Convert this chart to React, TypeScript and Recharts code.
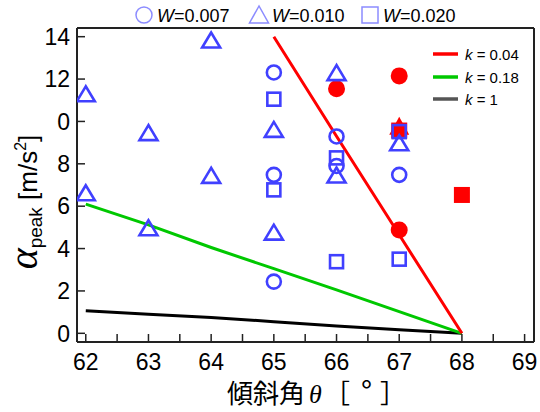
import React from 'react';
import { ComposedChart, XAxis, YAxis, Line, Scatter, Legend } from 'recharts';

// ---- data ----
const circleTheta = [65, 65, 65, 66, 66, 67];
const circleAlpha = [12.31, 7.48, 2.44, 9.29, 7.9, 7.48];
const triangleTheta = [62, 62, 63, 63, 64, 64, 65, 65, 66, 66, 67];
const triangleAlpha = [11.28, 6.61, 9.45, 4.96, 13.82, 7.43, 9.6, 4.75, 12.28, 7.45, 8.97];
const squareTheta = [65, 65, 66, 66, 67, 67];
const squareAlpha = [11.05, 6.77, 8.28, 3.38, 9.52, 3.5];
const redCircleTheta = [66, 67, 67];
const redCircleAlpha = [11.54, 12.15, 4.88];
const redTriangleTheta = [67];
const redTriangleAlpha = [9.75];
const redSquareTheta = [67, 68];
const redSquareAlpha = [9.57, 6.53];

const k004Theta = [65, 66, 67, 68];
const k004Alpha = [14, 9.3, 4.65, 0];
const k018Theta = [62, 63, 64, 65, 66, 67, 68];
const k018Alpha = [6.1, 5.12, 4.05, 3.05, 2.05, 1.02, 0];
const k1Theta = [62, 63, 64, 65, 66, 67, 68];
const k1Alpha = [1.07, 0.9, 0.75, 0.55, 0.35, 0.17, 0];

const xTickValues = [62, 62.5, 63, 63.5, 64, 64.5, 65, 65.5, 66, 66.5, 67, 67.5, 68, 68.5, 69];
const xTickLabels = ['62', '63', '64', '65', '66', '67', '68', '69'];
const yTickValues = [0, 2, 4, 6, 8, 10, 12, 14];
const yTickLabels = ['0', '2', '4', '6', '8', '0', '12', '14'];
const wLegendValues = ['0.007', '0.010', '0.020'];
const kLegendValues = ['0.04', '0.18', '1'];

const pts = (xs: number[], ys: number[]) => xs.map((x, i) => ({ x, y: ys[i] }));

const BLUE = '#4040ff';
const LIGHTBLUE = '#8c8cff';
const RED = '#ff0000';
const GREEN = '#00c800';
const SANS = '"Liberation Sans", Arial, sans-serif';
const SERIF = '"Liberation Serif", "DejaVu Serif", serif';
const CJK = '"Noto Sans CJK JP", sans-serif';

const XDOMAIN: [number, number] = [61.86, 69.15];
const YDOMAIN: [number, number] = [-0.41, 14.41];

const CircleShape = (p: any) => (
  <circle cx={p.cx} cy={p.cy} r={7} fill="none" stroke={BLUE} strokeWidth={2.6} />
);
const TriangleShape = (p: any) => (
  <polygon
    points={`${p.cx},${p.cy - 8} ${p.cx - 9},${p.cy + 7} ${p.cx + 9},${p.cy + 7}`}
    fill="none"
    stroke={BLUE}
    strokeWidth={2.6}
    strokeLinejoin="miter"
  />
);
const SquareShape = (p: any) => (
  <rect x={p.cx - 6.5} y={p.cy - 6.5} width={13} height={13} fill="none" stroke={BLUE} strokeWidth={2.6} />
);
const RedCircleShape = (p: any) => <circle cx={p.cx} cy={p.cy} r={8.5} fill={RED} />;
const RedTriangleShape = (p: any) => (
  <polygon points={`${p.cx},${p.cy - 10} ${p.cx - 10},${p.cy + 8} ${p.cx + 10},${p.cy + 8}`} fill={RED} />
);
const RedSquareShape = (p: any) => <rect x={p.cx - 8} y={p.cy - 8} width={16} height={16} fill={RED} />;

const XTick = (p: any) => {
  const v = p.payload.value;
  if (Math.abs(v - Math.round(v)) > 1e-6) return null;
  return (
    <text x={p.x} y={p.y} dy="0.71em" textAnchor="middle" fontFamily={SANS} fontSize={23} fill="#000">
      {xTickLabels[Math.round(v) - 62]}
    </text>
  );
};
const YTick = (p: any) => {
  const idx = yTickValues.indexOf(p.payload.value);
  return (
    <text x={p.x} y={p.y} dy="0.36em" textAnchor="end" fontFamily={SANS} fontSize={23} fill="#000">
      {yTickLabels[idx]}
    </text>
  );
};

const XTitle = (p: any) => {
  const vb = p.viewBox || { x: 77, y: 342, width: 457, height: 70 };
  const x0 = vb.x + 150;
  const by = vb.y + 61;
  return (
    <text x={x0} y={by} textAnchor="start" fontFamily={CJK} fontSize={26} fill="#000">
      <tspan>傾斜角</tspan>
      <tspan dx={4} fontFamily={SERIF} fontStyle="italic">θ</tspan>
      <tspan x={x0 + 97}>［</tspan>
      <tspan x={x0 + 134} fontSize={30}>°</tspan>
      <tspan x={x0 + 153}>］</tspan>
    </text>
  );
};

const YTitle = (p: any) => {
  const vb = p.viewBox || { x: 0, y: 28, width: 77, height: 314 };
  const cx = vb.x + 37;
  const cy = vb.y + vb.height / 2 + 17;
  return (
    <text
      transform={`rotate(-90, ${cx}, ${cy})`}
      x={cx}
      y={cy}
      textAnchor="middle"
      fontFamily={SANS}
      fontSize={26}
      fill="#000"
    >
      <tspan fontFamily={SERIF} fontStyle="italic" fontSize={40}>α</tspan>
      <tspan fontSize={19} dy={5}>peak</tspan>
      <tspan dy={-5}> [m/s</tspan>
      <tspan fontSize={16} dy={-11}>2</tspan>
      <tspan dy={11}>]</tspan>
    </text>
  );
};

const LegendContent = () => {
  const wx = [144, 259, 370];
  const kColors = [RED, GREEN, '#555555'];
  const ky = [54, 77, 99];
  return (
    <svg width={540} height={412} style={{ position: 'absolute', left: 0, top: 0, overflow: 'visible' }}>
      <circle cx={wx[0]} cy={15} r={8} fill="none" stroke={LIGHTBLUE} strokeWidth={1.5} />
      <polygon
        points={`${wx[1]},${6} ${wx[1] - 9.5},${23} ${wx[1] + 9.5},${23}`}
        fill="none"
        stroke={LIGHTBLUE}
        strokeWidth={1.5}
      />
      <rect x={wx[2] - 8} y={7} width={16} height={16} fill="none" stroke={LIGHTBLUE} strokeWidth={1.5} />
      {wLegendValues.map((v, i) => (
        <text key={v} x={wx[i] + 13} y={22} fontFamily={SANS} fontSize={18} fill="#000">
          <tspan fontStyle="italic">W</tspan>
          <tspan>={v}</tspan>
        </text>
      ))}
      {kLegendValues.map((v, i) => (
        <g key={v}>
          <line x1={433} x2={458} y1={ky[i]} y2={ky[i]} stroke={kColors[i]} strokeWidth={3.5} />
          <text x={465} y={ky[i] + 5.5} fontFamily={SANS} fontSize={15} fill="#000">
            <tspan fontStyle="italic">k</tspan>
            <tspan> = {v}</tspan>
          </text>
        </g>
      ))}
    </svg>
  );
};

export default function App() {
  return (
    <div style={{ position: 'absolute', left: 0, top: 0, width: 540, height: 412, background: '#fff' }}>
      <ComposedChart width={540} height={412} margin={{ top: 0, right: 0, bottom: 0, left: 0 }}>
        <XAxis
          xAxisId="b"
          type="number"
          dataKey="x"
          domain={XDOMAIN}
          allowDataOverflow
          ticks={xTickValues}
          interval={0}
          orientation="bottom"
          height={70}
          tickSize={-8}
          tickMargin={20}
          axisLine={{ stroke: '#222', strokeWidth: 2 }}
          tickLine={{ stroke: '#222', strokeWidth: 1.5 }}
          tick={<XTick />}
          label={{ content: (p: any) => <XTitle {...p} /> }}
        />
        <XAxis
          xAxisId="t"
          type="number"
          dataKey="x"
          domain={XDOMAIN}
          allowDataOverflow
          ticks={xTickValues}
          interval={0}
          orientation="top"
          height={28}
          tickSize={-8}
          axisLine={{ stroke: '#222', strokeWidth: 2 }}
          tickLine={{ stroke: '#222', strokeWidth: 1.5 }}
          tick={false}
        />
        <YAxis
          yAxisId="l"
          type="number"
          domain={YDOMAIN}
          allowDataOverflow
          ticks={yTickValues}
          interval={0}
          width={77}
          tickSize={-8}
          tickMargin={15}
          axisLine={{ stroke: '#222', strokeWidth: 2 }}
          tickLine={{ stroke: '#222', strokeWidth: 1.5 }}
          tick={<YTick />}
          label={{ content: (p: any) => <YTitle {...p} /> }}
        />
        <YAxis
          yAxisId="r"
          orientation="right"
          type="number"
          domain={YDOMAIN}
          allowDataOverflow
          ticks={yTickValues}
          interval={0}
          width={6}
          tickSize={-8}
          axisLine={{ stroke: '#222', strokeWidth: 2 }}
          tickLine={{ stroke: '#222', strokeWidth: 1.5 }}
          tick={false}
        />
        <Legend
          layout="horizontal"
          verticalAlign="middle"
          align="center"
          wrapperStyle={{ position: 'absolute', left: 0, top: 0, width: 540, height: 412, pointerEvents: 'none' }}
          content={() => <LegendContent />}
        />
        <Line xAxisId="b" yAxisId="l" data={pts(k1Theta, k1Alpha)} dataKey="y" type="linear" stroke="#000" strokeWidth={3} dot={false} isAnimationActive={false} name="k = 1" />
        <Line xAxisId="b" yAxisId="l" data={pts(k018Theta, k018Alpha)} dataKey="y" type="linear" stroke={GREEN} strokeWidth={3} dot={false} isAnimationActive={false} name="k = 0.18" />
        <Line xAxisId="b" yAxisId="l" data={pts(k004Theta, k004Alpha)} dataKey="y" type="linear" stroke={RED} strokeWidth={3} dot={false} isAnimationActive={false} name="k = 0.04" />
        <Scatter xAxisId="b" yAxisId="l" data={pts(redTriangleTheta, redTriangleAlpha)} dataKey="y" shape={RedTriangleShape} isAnimationActive={false} />
        <Scatter xAxisId="b" yAxisId="l" data={pts(redSquareTheta, redSquareAlpha)} dataKey="y" shape={RedSquareShape} isAnimationActive={false} />
        <Scatter xAxisId="b" yAxisId="l" data={pts(redCircleTheta, redCircleAlpha)} dataKey="y" shape={RedCircleShape} isAnimationActive={false} />
        <Scatter xAxisId="b" yAxisId="l" data={pts(circleTheta, circleAlpha)} dataKey="y" shape={CircleShape} isAnimationActive={false} name="W=0.007" />
        <Scatter xAxisId="b" yAxisId="l" data={pts(triangleTheta, triangleAlpha)} dataKey="y" shape={TriangleShape} isAnimationActive={false} name="W=0.010" />
        <Scatter xAxisId="b" yAxisId="l" data={pts(squareTheta, squareAlpha)} dataKey="y" shape={SquareShape} isAnimationActive={false} name="W=0.020" />
      </ComposedChart>
    </div>
  );
}
